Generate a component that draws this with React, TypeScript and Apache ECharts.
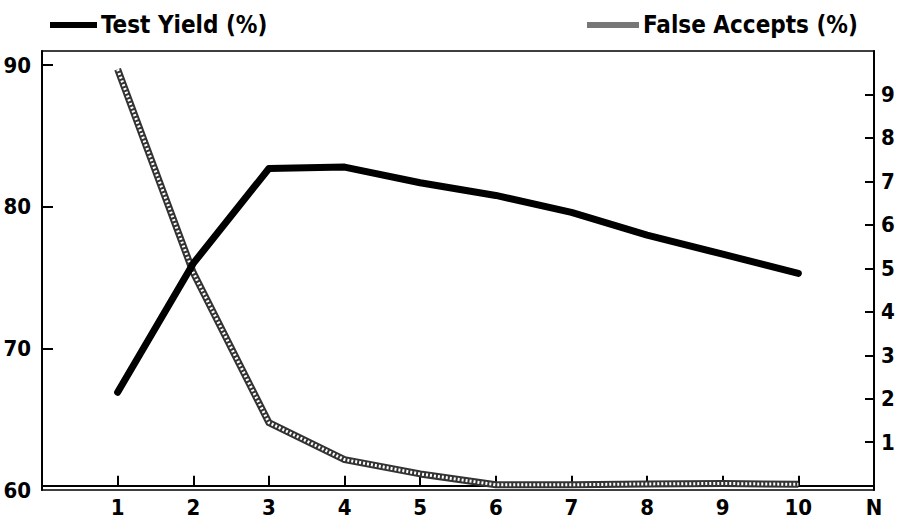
import React, { useEffect, useRef } from "react";
import * as echarts from "echarts";

const nValues = [1, 2, 3, 4, 5, 6, 7, 8, 9, 10];
const testYield = [66.9, 76.0, 82.7, 82.8, 81.7, 80.8, 79.6, 78.0, 76.65, 75.3];
const falseAccepts = [9.58, 4.9, 1.45, 0.6, 0.27, 0.02, 0.02, 0.04, 0.05, 0.03];
const xLabelValues = [1, 2, 3, 4, 5, 6, 7, 8, 9, 10, 11];
const leftTicks = [60, 70, 80, 90];
const rightTicks = [1, 2, 3, 4, 5, 6, 7, 8, 9];

const FONT = "'DejaVu Sans Condensed', 'DejaVu Sans', sans-serif";

export default function App() {
  const ref = useRef<HTMLDivElement>(null);
  useEffect(() => {
    document.body.style.margin = "0";
    const chart = echarts.init(ref.current!, null, { renderer: "svg" });
    const labelStyle = {
      color: "#000",
      fontFamily: FONT,
      fontWeight: "bold" as const,
      fontSize: 22,
    };
    const ty = nValues.map((n, i) => [n, testYield[i]]);
    const fa = nValues.map((n, i) => [n, falseAccepts[i]]);
    chart.setOption({
      animation: false,
      backgroundColor: "#fff",
      legend: [
        {
          data: ["Test Yield (%)"],
          left: 45,
          top: 8,
          icon: "rect",
          itemWidth: 47,
          itemHeight: 6,
          textStyle: { ...labelStyle, fontSize: 24, padding: [0, 0, 0, -1] },
        },
        {
          data: ["False Accepts (%)"],
          left: 582,
          top: 8,
          icon: "rect",
          itemWidth: 52,
          itemHeight: 6,
          textStyle: { ...labelStyle, fontSize: 24, padding: [0, 0, 0, -1] },
        },
      ],
      grid: {
        left: 42,
        right: 25,
        top: 51,
        bottom: 32,
        show: true,
        borderColor: "#000",
        borderWidth: 1.5,
      },
      xAxis: {
        type: "value",
        min: 0,
        max: 11,
        interval: 1,
        splitLine: { show: false },
        axisLine: { show: true, lineStyle: { color: "#000", width: 2 } },
        axisTick: {
          show: true,
          inside: true,
          length: 10,
          lineStyle: { color: "#000", width: 2 },
          customValues: nValues,
        },
        axisLabel: {
          ...labelStyle,
          margin: 6,
          customValues: xLabelValues,
          formatter: (v: number) => (v === 11 ? "N" : String(v)),
        },
      },
      yAxis: [
        {
          type: "value",
          min: 60,
          max: 91,
          interval: 10,
          position: "left",
          splitLine: { show: false },
          axisLine: { show: true, lineStyle: { color: "#000", width: 2 } },
          axisTick: {
            show: true,
            inside: true,
            length: 11,
            lineStyle: { color: "#000", width: 2 },
            customValues: [70, 80, 90],
          },
          axisLabel: { ...labelStyle, margin: 11, customValues: leftTicks },
        },
        {
          type: "value",
          min: -0.1,
          max: 10,
          position: "right",
          splitLine: { show: false },
          axisLine: { show: true, lineStyle: { color: "#000", width: 2 } },
          axisTick: {
            show: true,
            inside: true,
            length: 9,
            lineStyle: { color: "#000", width: 2 },
            customValues: rightTicks,
          },
          axisLabel: { ...labelStyle, margin: 7, customValues: rightTicks },
        },
      ],
      series: [
        {
          name: "False Accepts (%)",
          type: "line",
          yAxisIndex: 1,
          data: fa,
          symbol: "none",
          color: "#777",
          lineStyle: { color: "#333", width: 7, join: "round" },
          z: 2,
        },
        {
          name: "fa-texture",
          type: "line",
          yAxisIndex: 1,
          data: fa,
          symbol: "none",
          silent: true,
          lineStyle: { color: "#fff", width: 3, type: [2, 2], join: "round" },
          z: 3,
        },
        {
          name: "Test Yield (%)",
          type: "line",
          yAxisIndex: 0,
          data: ty,
          symbol: "none",
          color: "#000",
          lineStyle: { color: "#000", width: 7, cap: "round", join: "round" },
          z: 4,
        },
      ],
    });
    return () => chart.dispose();
  }, []);
  return <div ref={ref} style={{ width: 899, height: 522 }} />;
}
